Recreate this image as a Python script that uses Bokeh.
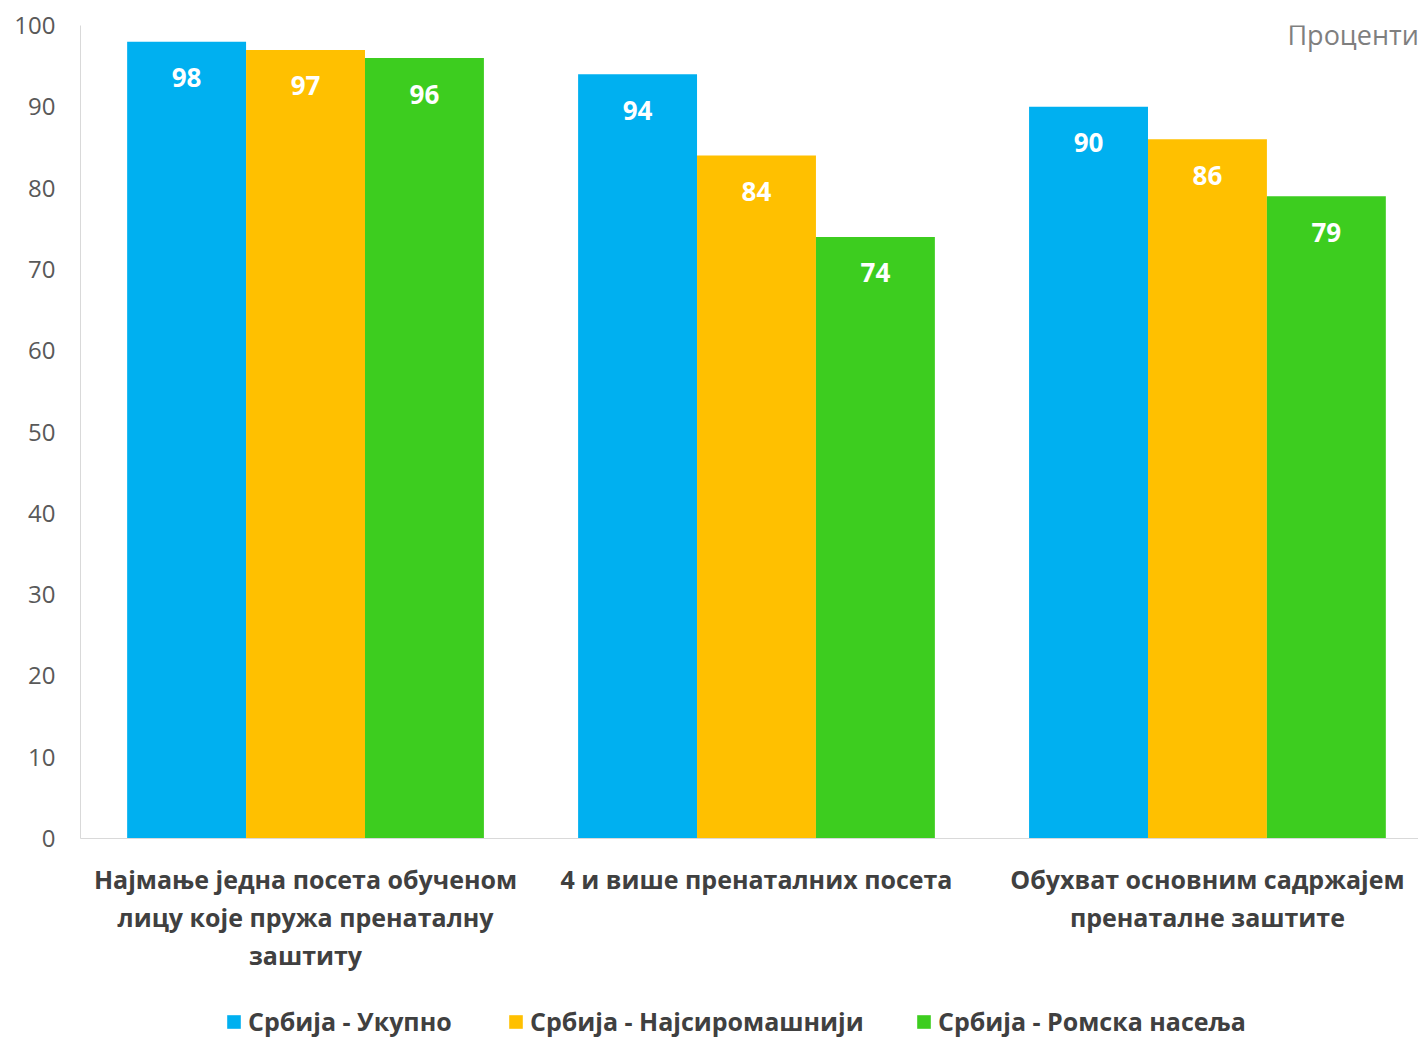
from bokeh.plotting import figure
from bokeh.models import (ColumnDataSource, Range1d, FixedTicker, LabelSet, Label,
                          Legend, LegendItem)
from bokeh.layouts import column
from bokeh.transform import dodge
from bokeh.core.properties import value
from bokeh.embed import file_html
from bokeh.resources import INLINE

categories = [
    "Најмање једна посета обученом\nлицу које пружа пренаталну\nзаштиту",
    "4 и више пренаталних посета",
    "Обухват основним садржајем\nпренаталне заштите",
]
series_names = ["Србија - Укупно", "Србија - Најсиромашнији", "Србија - Ромска насеља"]
total = [98, 94, 90]
poorest = [97, 84, 86]
roma = [96, 74, 79]
y_ticks = [0, 10, 20, 30, 40, 50, 60, 70, 80, 90, 100]

colors = ["#00B0F0", "#FFC000", "#3DCD1F"]
FONT = "Open Sans"

src = ColumnDataSource(dict(
    x=list(range(len(categories))),
    s0=total, s1=poorest, s2=roma,
    t0=[str(v) for v in total], t1=[str(v) for v in poorest], t2=[str(v) for v in roma],
))

p = figure(width=1418, height=1000, output_backend="svg", toolbar_location=None,
           x_range=Range1d(-0.499, 2.468), y_range=Range1d(0, 100),
           min_border_left=80, min_border_right=0, min_border_top=25, min_border_bottom=162)
p.outline_line_color = None
p.grid.visible = False

w = 0.2637
offsets = [-w, 0, w]
for i, col in enumerate(colors):
    p.vbar(x=dodge("x", offsets[i], range=p.x_range), top=f"s{i}", width=w, bottom=0,
           source=src, fill_color=col, line_color=None)
    labels = LabelSet(x=dodge("x", offsets[i], range=p.x_range), y=f"s{i}", text=f"t{i}",
                      source=src, text_align="center", text_baseline="middle", y_offset=-36,
                      text_color="white", text_font=value(FONT), text_font_style="bold",
                      text_font_size="26px")
    p.add_layout(labels)

# axes
p.xaxis.ticker = FixedTicker(ticks=list(range(len(categories))))
p.xaxis.major_label_overrides = {i: c for i, c in enumerate(categories)}
p.xaxis.major_label_text_font = FONT
p.xaxis.major_label_text_font_style = "bold"
p.xaxis.major_label_text_font_size = "25px"
p.xaxis.major_label_text_color = "#404040"
p.xaxis.major_label_text_line_height = 1.124
p.xaxis.major_label_standoff = 23
p.xaxis.axis_line_color = "#D9D9D9"
p.xaxis.major_tick_line_color = None
p.xaxis.major_tick_out = 0
p.xaxis.major_tick_in = 0
p.xaxis.minor_tick_line_color = None

p.yaxis.ticker = FixedTicker(ticks=y_ticks)
p.yaxis.major_label_text_font = FONT
p.yaxis.major_label_text_font_size = "24px"
p.yaxis.major_label_text_color = "#595959"
p.yaxis.major_label_standoff = 25
p.yaxis.axis_line_color = "#D9D9D9"
p.yaxis.major_tick_line_color = None
p.yaxis.major_tick_out = 0
p.yaxis.major_tick_in = 0
p.yaxis.minor_tick_line_color = None

p.add_layout(Label(x=2.1774, y=98.9, text="Проценти", text_font=FONT, text_font_size="27px",
                   text_color="#7F7F7F", text_baseline="middle", text_align="left"))

# legend strip (same series data, bars kept outside the strip's visible range)
p2 = figure(width=1418, height=37, output_backend="svg", toolbar_location=None,
            x_range=Range1d(-0.499, 2.468), y_range=Range1d(200, 300),
            x_axis_type=None, y_axis_type=None, min_border=0, min_border_left=80)
p2.outline_line_color = None
p2.grid.visible = False

legend_x = [145, 427, 835]
for i, (name, col) in enumerate(zip(series_names, colors)):
    r = p2.vbar(x="x", top=f"s{i}", width=w, source=src, fill_color=col, line_color=None)
    lg = Legend(items=[LegendItem(label=name, renderers=[r])], location=(legend_x[i], -1),
                orientation="horizontal", border_line_color=None, background_fill_alpha=0,
                padding=0, margin=0, glyph_width=17, glyph_height=17, label_height=17,
                label_standoff=6, label_text_font=FONT, label_text_font_style="bold",
                label_text_font_size="25px", label_text_color="#404040")
    p2.add_layout(lg)

layout = column(p, p2, spacing=0)
open("out.html", "w").write(file_html(layout, INLINE))
